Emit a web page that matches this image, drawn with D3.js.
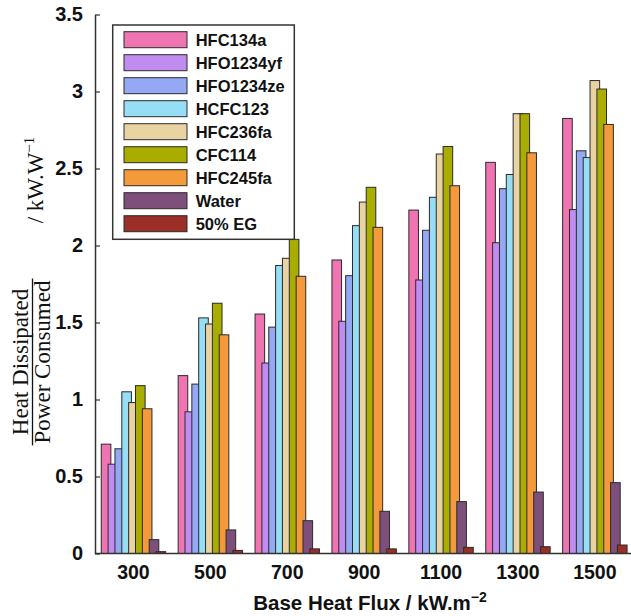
<!DOCTYPE html>
<html>
<head>
<meta charset="utf-8">
<script src="https://cdn.jsdelivr.net/npm/d3@7"></script>
<style>
  body { margin: 0; background: #fff; }
  svg { display: block; }
  .tick-label { font-family: "Liberation Sans", Arial, sans-serif; font-weight: bold; fill: #111; }
  .serif { font-family: "Liberation Serif", "Times New Roman", serif; fill: #111; }
</style>
</head>
<body>
<div id="chart"></div>
<script>
// heat flux groups on the x axis
var categories = ["300", "500", "700", "900", "1100", "1300", "1500"];
var yTicks = [0, 0.5, 1, 1.5, 2, 2.5, 3, 3.5];

// series
var seriesNames = ["HFC134a", "HFO1234yf", "HFO1234ze", "HCFC123", "HFC236fa",
  "CFC114", "HFC245fa", "Water", "50% EG"];
var hfc134a   = [0.71, 1.155, 1.555, 1.906, 2.23, 2.54, 2.825];
var hfo1234yf = [0.58, 0.92, 1.237, 1.508, 1.776, 2.018, 2.233];
var hfo1234ze = [0.68, 1.10, 1.47, 1.804, 2.099, 2.369, 2.615];
var hcfc123   = [1.05, 1.53, 1.87, 2.129, 2.313, 2.461, 2.571];
var hfc236fa  = [0.98, 1.49, 1.917, 2.282, 2.594, 2.856, 3.071];
var cfc114    = [1.09, 1.625, 2.04, 2.378, 2.643, 2.856, 3.016];
var hfc245fa  = [0.94, 1.42, 1.80, 2.118, 2.388, 2.602, 2.786];
var water     = [0.09, 0.153, 0.213, 0.274, 0.337, 0.399, 0.46];
var eg50      = [0.012, 0.02, 0.03, 0.03, 0.04, 0.044, 0.055];

var seriesValues = [hfc134a, hfo1234yf, hfo1234ze, hcfc123, hfc236fa,
  cfc114, hfc245fa, water, eg50];
var colors = ["#ef74b2", "#c18cf2", "#94a8f3", "#96def5", "#e9d3a3",
  "#a8ad00", "#f49a3b", "#7e4f7a", "#9b2f26"];

var svgWidth = 631;
var svgHeight = 616;

var svg = d3.select("#chart")
  .append("svg")
  .attr("width", svgWidth)
  .attr("height", svgHeight);

var x0 = 95;
var yBottom = 553.5;

// scales
var xScale = d3.scaleBand()
  .domain(categories)
  .range([x0, x0 + 7 * 76.9])
  .padding(0);

var barW = 9.6;
var xInner = d3.scalePoint()
  .domain(seriesNames)
  .range([-32.2 + barW / 2, 32.2 - barW / 2]);

var yScale = d3.scaleLinear()
  .domain([0, 3.5])
  .range([yBottom, 14.5]);

// bars, later series drawn on top
var rows = [];
seriesNames.forEach(function(name, s) {
  categories.forEach(function(cat, i) {
    rows.push({ name: name, cat: cat, value: seriesValues[s][i], color: colors[s] });
  });
});

svg.append("g")
  .selectAll("rect")
  .data(rows)
  .enter()
  .append("rect")
  .attr("x", d => xScale(d.cat) + xScale.bandwidth() / 2 + xInner(d.name) - barW / 2)
  .attr("y", d => yScale(d.value))
  .attr("width", barW)
  .attr("height", d => yBottom - yScale(d.value))
  .attr("fill", d => d.color)
  .attr("stroke", "#2b2b2b")
  .attr("stroke-width", 1);

// y axis
var yAxis = d3.axisLeft(yScale)
  .tickValues(yTicks)
  .tickFormat(d3.format("~g"))
  .tickSizeInner(-5)
  .tickSizeOuter(0)
  .tickPadding(12);

var yAxisG = svg.append("g")
  .attr("transform", `translate(${x0}, 0)`)
  .call(yAxis);
yAxisG.select(".domain").attr("stroke", "#333").attr("stroke-width", 1.5);
yAxisG.selectAll(".tick line").attr("stroke", "#333").attr("stroke-width", 1.2);
yAxisG.selectAll(".tick text")
  .attr("class", "tick-label")
  .style("font-size", "20px");

// x axis
var xAxis = d3.axisBottom(xScale)
  .tickSize(0)
  .tickPadding(12);

var xAxisG = svg.append("g")
  .attr("transform", `translate(0, ${yBottom})`)
  .call(xAxis);
xAxisG.select(".domain").remove();
xAxisG.append("line")
  .attr("x1", x0).attr("x2", svgWidth)
  .attr("y1", 0).attr("y2", 0)
  .attr("stroke", "#333")
  .attr("stroke-width", 1.5);
xAxisG.selectAll(".tick text")
  .attr("class", "tick-label")
  .attr("dy", "0.71em")
  .style("font-size", "19.5px");

// x axis title
var xTitle = svg.append("text")
  .attr("class", "tick-label")
  .attr("x", 370)
  .attr("y", 610)
  .attr("text-anchor", "middle")
  .style("font-size", "20.5px");
xTitle.append("tspan").text("Base Heat Flux / kW.m");
xTitle.append("tspan")
  .attr("dy", -8)
  .style("font-size", "14px")
  .text("\u22122");

// y axis title: fraction plus unit
var yTitle = svg.append("g")
  .attr("transform", "translate(0, 362) rotate(-90)");

var num = yTitle.append("text")
  .attr("class", "serif")
  .attr("x", 0)
  .attr("y", 28)
  .attr("text-anchor", "middle")
  .style("font-size", "23px")
  .text("Heat Dissipated");

var den = yTitle.append("text")
  .attr("class", "serif")
  .attr("x", 0)
  .attr("y", 50)
  .attr("text-anchor", "middle")
  .style("font-size", "23px")
  .text("Power Consumed");

var fracLen = Math.max(num.node().getComputedTextLength(), den.node().getComputedTextLength()) + 4;
yTitle.append("line")
  .attr("x1", -fracLen / 2)
  .attr("x2", fracLen / 2)
  .attr("y1", 32.5)
  .attr("y2", 32.5)
  .attr("stroke", "#111")
  .attr("stroke-width", 1.3);

var unit = svg.append("text")
  .attr("class", "serif")
  .attr("transform", "translate(42.5, 180) rotate(-90)")
  .attr("text-anchor", "middle")
  .style("font-size", "23px");
unit.append("tspan").text("/ kW.W");
unit.append("tspan")
  .attr("dy", -9)
  .style("font-size", "15px")
  .text("\u22121");

// legend
var legend = svg.append("g");
legend.append("rect")
  .attr("x", 112.7)
  .attr("y", 25)
  .attr("width", 181.6)
  .attr("height", 214.3)
  .attr("fill", "#fff")
  .attr("stroke", "#333")
  .attr("stroke-width", 1.5);

var legendY = d3.scalePoint()
  .domain(seriesNames)
  .range([39.7, 39.7 + 8 * 23.0]);

var items = legend.selectAll(".item")
  .data(seriesNames)
  .enter()
  .append("g")
  .attr("class", "item")
  .attr("transform", d => `translate(0, ${legendY(d)})`);

items.append("rect")
  .attr("x", 124)
  .attr("y", -8)
  .attr("width", 63)
  .attr("height", 16)
  .attr("fill", (d, i) => colors[i])
  .attr("stroke", "#2b2b2b")
  .attr("stroke-width", 1);

items.append("text")
  .attr("class", "tick-label")
  .attr("x", 195.7)
  .attr("y", 6.5)
  .style("font-size", "16.5px")
  .text(d => d);
</script>
</body>
</html>
